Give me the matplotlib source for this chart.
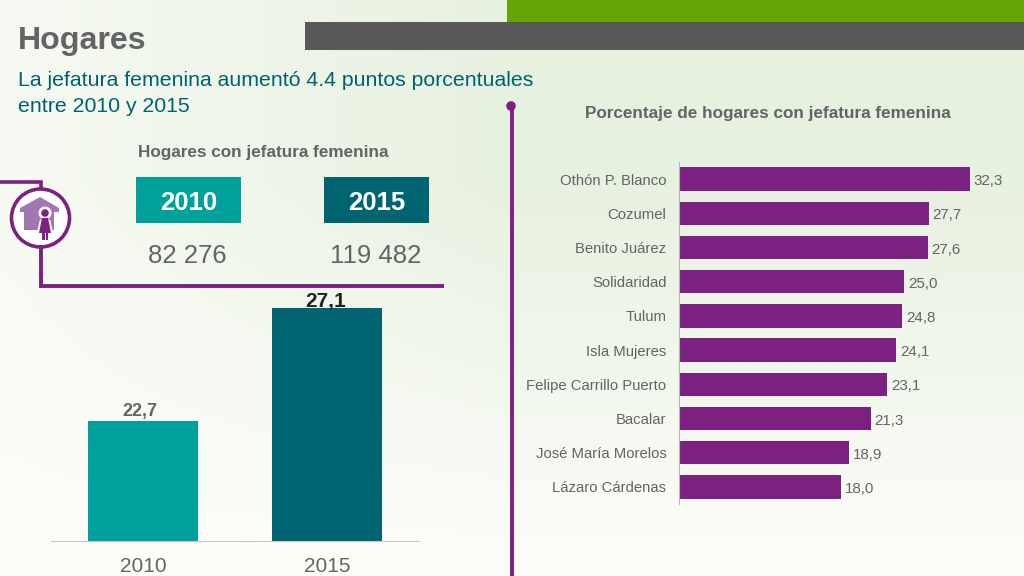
import numpy as np
import matplotlib.pyplot as plt
from matplotlib.patches import Rectangle, Circle, Polygon

plt.rcParams['font.family'] = ['Liberation Sans', 'DejaVu Sans']

# data
municipios = ['Othón P. Blanco', 'Cozumel', 'Benito Juárez', 'Solidaridad', 'Tulum',
              'Isla Mujeres', 'Felipe Carrillo Puerto', 'Bacalar', 'José María Morelos',
              'Lázaro Cárdenas']
porcentajes = [32.3, 27.7, 27.6, 25.0, 24.8, 24.1, 23.1, 21.3, 18.9, 18.0]
anios = ['2010', '2015']
jefatura = [22.7, 27.1]
hogares = ['82 276', '119 482']

W, H = 1024, 576
purple = '#7b2181'
grey = '#636466'
teal = '#00a19a'
dark_teal = '#006570'


def coma(v):
    return f'{v:.1f}'.replace('.', ',')


def px_axes(x0, y0, x1, y1):
    # axes from pixel box, y measured from the top
    return fig.add_axes([x0 / W, 1 - y1 / H, (x1 - x0) / W, (y1 - y0) / H])


fig = plt.figure(figsize=(W / 100, H / 100), dpi=100)

# background and decorations, in pixels
bg = fig.add_axes([0, 0, 1, 1])
bg.axis('off')

yy, xx = np.mgrid[0:1:60j, 0:1:100j]
across = 0.3 + 0.7 * np.clip(xx / 0.5, 0, 1)
down = np.clip(1.45 - 1.45 * yy, 0.05, 1)
t = across * down
white = np.array([253, 253, 250]) / 255
green = np.array([231, 241, 224]) / 255
grad = white + (green - white) * t[..., None]
bg.imshow(grad, extent=[0, W, H, 0], aspect='auto', interpolation='bilinear')
bg.set_xlim(0, W)
bg.set_ylim(H, 0)

bg.add_patch(Rectangle((507, 0), 517, 22, fc='#62a505', ec='none'))
bg.add_patch(Rectangle((305, 22), 719, 28, fc='#58585a', ec='none'))

bg.text(18, 41.5, 'Hogares', fontsize=23.1, fontweight='bold', color=grey, va='center')
bg.text(18, 80, 'La jefatura femenina aumentó 4.4 puntos porcentuales', fontsize=15.3,
        color='#00626d', va='center')
bg.text(18, 106, 'entre 2010 y 2015', fontsize=15.3, color='#00626d', va='center')
bg.text(263.5, 152, 'Hogares con jefatura femenina', fontsize=12.3, fontweight='bold',
        color=grey, ha='center', va='center')
bg.text(767.5, 113.5, 'Porcentaje de hogares con jefatura femenina', fontsize=12.3,
        fontweight='bold', color=grey, ha='center', va='center')

# year boxes
for a, x0, c, n in zip(anios, [136, 324], [teal, dark_teal], hogares):
    bg.add_patch(Rectangle((x0, 177), 105, 46, fc=c, ec='none'))
    bg.text(x0 + 52.5, 202.5, a, fontsize=18.5, fontweight='bold', color='white',
            ha='center', va='center')
    bg.text(x0 + 51.5, 256, n, fontsize=18.5, color=grey, ha='center', va='center')

# purple connector lines
bg.plot([0, 41, 41], [182, 182, 190], color=purple, lw=2.6, solid_joinstyle='miter',
        solid_capstyle='butt')
bg.plot([41, 41, 444], [245, 285.5, 285.5], color=purple, lw=2.8, solid_joinstyle='miter',
        solid_capstyle='butt')
bg.plot([512, 512], [106, 576], color=purple, lw=2.8, solid_capstyle='butt')
bg.add_patch(Circle((511, 106), 4.8, fc=purple, ec='none'))

# house icon
bg.add_patch(Circle((40.5, 218), 29, fc='white', ec=purple, lw=2.6))
bg.add_patch(Polygon([(20, 208), (40, 197), (59, 208), (59, 212), (54, 212), (54, 230),
                      (24, 230), (24, 212), (20, 212)], fc='#a277b1', ec='none'))
bg.add_patch(Circle((45, 213), 6.5, fc='white', ec='none'))
bg.add_patch(Polygon([(38, 234), (41, 221), (49, 221), (52, 234)], fc='white', ec='white', lw=2))
bg.add_patch(Circle((45, 213), 3.8, fc=purple, ec='none'))
bg.add_patch(Polygon([(39, 233), (42, 218), (48, 218), (51, 233)], fc=purple, ec='none'))
bg.add_patch(Rectangle((42, 233), 2.5, 7, fc=purple, ec='none'))
bg.add_patch(Rectangle((45.5, 233), 2.5, 7, fc=purple, ec='none'))

# left bar chart, the axis starts at 18
ax1 = px_axes(51, 300, 419, 541)
ax1.patch.set_alpha(0)
ax1.bar(anios, jefatura, width=0.595, color=[teal, dark_teal])
ax1.set_xlim(-0.5, 1.5)
ax1.set_ylim(18.03, 18.03 + 241 / 25.7)
for s in ['top', 'left', 'right']:
    ax1.spines[s].set_visible(False)
ax1.spines['bottom'].set_color('#c8c9c7')
ax1.set_yticks([])
ax1.tick_params(axis='x', length=0, labelsize=15, labelcolor=grey, pad=11.5)
ax1.text(-0.015, jefatura[0] + 0.05, coma(jefatura[0]), ha='center', va='bottom', fontsize=13,
         fontweight='bold', color=grey)
ax1.text(0.99, jefatura[1] - 0.12, coma(jefatura[1]), ha='center', va='bottom', fontsize=15,
         fontweight='bold', color='#222222', clip_on=False)

# right bar chart
ax2 = px_axes(679, 162, 1000, 504)
ax2.patch.set_alpha(0)
pos = np.arange(len(municipios))
ax2.barh(pos, porcentajes, height=0.68, color=purple)
ax2.set_xlim(0, 321 / 9.01)
ax2.set_ylim(len(municipios) - 0.5, -0.5)
ax2.set_yticks(pos, municipios)
for s in ['top', 'bottom', 'right']:
    ax2.spines[s].set_visible(False)
ax2.spines['left'].set_color('#b5b6b4')
ax2.set_xticks([])
ax2.tick_params(axis='y', length=0, labelsize=10.7, labelcolor=grey, pad=9)
for p, v in zip(pos, porcentajes):
    ax2.text(v + 0.42, p + 0.06, coma(v), va='center', fontsize=10.9, color=grey, clip_on=False)

fig.savefig('out.png', dpi=100)
